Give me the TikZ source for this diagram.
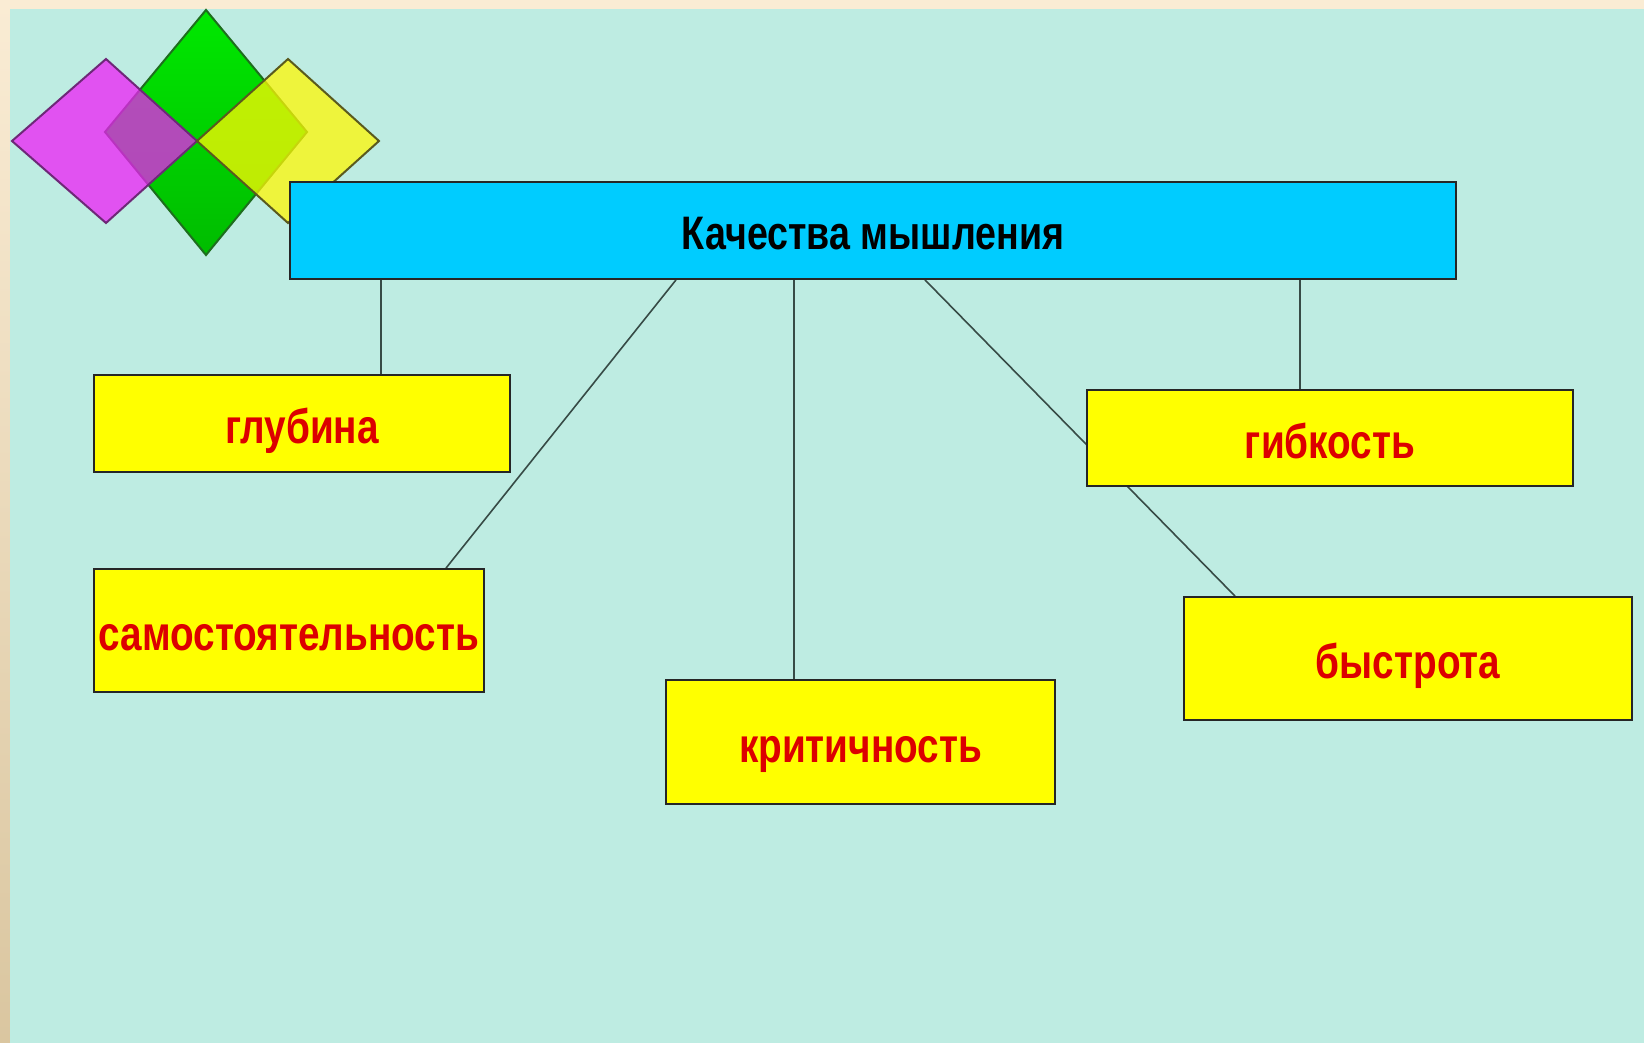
\documentclass[tikz,border=0pt]{standalone}
\usepackage{fontspec}
\setmainfont{Liberation Sans}
\newfontfamily\boxfont[FakeStretch=0.8]{Liberation Sans Bold}
\usetikzlibrary{positioning}

\definecolor{mint}{RGB}{190,236,226}
\definecolor{sand}{RGB}{250,236,212}
\definecolor{tan}{RGB}{218,198,160}
\definecolor{headcyan}{RGB}{0,204,255}
\definecolor{boxyellow}{RGB}{255,255,0}
\definecolor{wordred}{RGB}{220,0,0}
\definecolor{wiregray}{RGB}{55,75,70}
\definecolor{leafmag}{RGB}{238,31,247}
\definecolor{leafyel}{RGB}{255,248,5}

\pgfdeclarelayer{wires}
\pgfsetlayers{wires,main}

\begin{document}
\begin{tikzpicture}[
        x=0.5pt,y=-0.5pt,
        headbox/.style={
            draw=black!85,
            line width=0.9pt,
            fill=headcyan,
            inner sep=0pt,
            minimum width=583pt,
            minimum height=48.5pt,
            text height=18.8pt,
            text depth=0pt,
            font=\boxfont\fontsize{23.5}{28}\selectfont},
        qualbox/.style={
            draw=black!85,
            line width=0.9pt,
            fill=boxyellow,
            text=wordred,
            inner sep=0pt,
            text height=22pt,
            text depth=2pt,
            font=\boxfont\fontsize{24.2}{29}\selectfont},
        wire/.style={draw=wiregray, line width=0.8pt}
        ]
        \useasboundingbox (0,0) rectangle (1644,1043);

        \begin{pgfonlayer}{wires}
        % slide background
        \shade[top color=sand, bottom color=tan] (0,0) rectangle (1644,1043);
        \fill[mint] (10,9) rectangle (1644,1043);

        % three leaves in the corner
        \shade[top color={rgb,255:red,0;green,232;blue,0}, bottom color={rgb,255:red,0;green,188;blue,0},
            draw={rgb,255:red,30;green,110;blue,30}, line width=1pt]
            (206,10) -- (307,132) -- (206,255) -- (105,132) -- cycle;
        \draw[fill=leafmag, fill opacity=0.75, draw={rgb,255:red,110;green,40;blue,120}, line width=1pt]
            (12,141) -- (106,59) -- (197,141) -- (106,223) -- cycle;
        \draw[fill=leafyel, fill opacity=0.75, draw={rgb,255:red,90;green,90;blue,30}, line width=1pt]
            (197,141) -- (288,59) -- (379,141) -- (288,223) -- cycle;
        \end{pgfonlayer}

        \node[headbox] (head) at (873,230.5) {Качества мышления};
        \node[qualbox, minimum width=208pt, minimum height=48.5pt] (glub) at (302,423.5) {глубина};
        \node[qualbox, minimum width=195pt, minimum height=61.5pt] (samo) at (289,630.5) {самостоятельность};
        \node[qualbox, minimum width=194.5pt, minimum height=62pt] (krit) at (860.5,742) {критичность};
        \node[qualbox, minimum width=243pt, minimum height=48pt] (gibk) at (1330,438) {гибкость};
        \node[qualbox, minimum width=224pt, minimum height=61.5pt] (bystr) at (1408,658.5) {быстрота};

        \begin{pgfonlayer}{wires}
        \foreach \dx/\nd/\ex in {% shift on header/end node/shift on end node
            -246/glub/39.5,
            -98.5/samo/78.5,
            -39.5/krit/-33.25,
            26/bystr/-86.5,
            213.5/gibk/-15}
            \draw[wire] ([xshift=\dx pt]head.south) -- ([xshift=\ex pt]\nd.north);
        \end{pgfonlayer}
\end{tikzpicture}
\end{document}
